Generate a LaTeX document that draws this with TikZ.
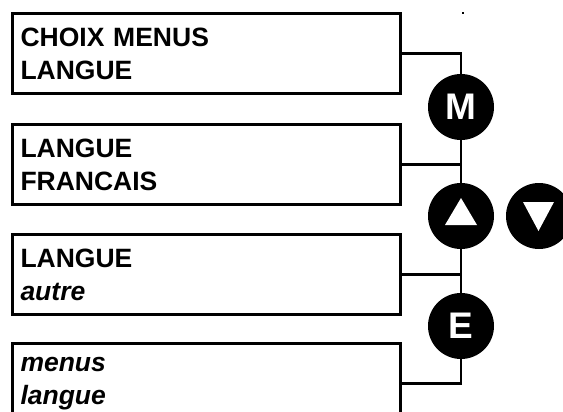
\documentclass[tikz,border=0pt]{standalone}
\usepackage{fontspec}
\setmainfont{Liberation Sans}
\usepackage{tikz}

\tikzset{
  menubox/.style={draw, line width=3pt, rectangle, anchor=north west,
    minimum width=388pt, minimum height=80pt, text width=372pt,
    inner xsep=8pt, inner ysep=0pt, align=left,
    font=\bfseries\fontsize{26.5}{33}\selectfont},
  touche/.style={circle, fill=black, minimum size=66pt, inner sep=0pt,
    text=white, font=\bfseries\fontsize{37}{37}\selectfont},
  lien/.style={line width=2.6pt}
}

\begin{document}
\begin{tikzpicture}[x=1pt,y=-1pt]
        \useasboundingbox (0,0) rectangle (563,412);
        \clip (0,0) rectangle (563,412);
        \node[menubox] (choix) at (11,12) {CHOIX MENUS\\LANGUE};
        \node[menubox] (francais) at (11,123) {LANGUE\\FRANCAIS};
        \node[menubox] (autre) at (11,233) {LANGUE\\\textit{autre}};
        \node[menubox] (menus) at (11,342) {\textit{menus}\\\textit{langue}};
        \node[touche] (M) at (461,107) {M};
        \node[touche] (haut) at (461,216) {};
        \node[touche] (bas) at (539,216) {};
        \node[touche] (E) at (461,326) {E};
        \fill[white] (haut) ++(-16,9) -- ++(32,0) -- ++(-16,-27) -- cycle;
        \fill[white] (bas) ++(-16,-14) -- ++(31,0) -- ++(-15.5,29) -- cycle;
        \draw[lien] (choix.east) -| (M.north);
        \draw[lien] (M.south) -- (haut.north);
        \draw[lien] (francais.east) -- (francais.east -| M.south);
        \draw[lien] (haut.south) -- (E.north);
        \draw[lien] (autre.east) -- (autre.east -| E.north);
        \draw[lien] (E.south) |- (menus.east);
        \fill (462,12) rectangle (464,14);
    \end{tikzpicture}
\end{document}
